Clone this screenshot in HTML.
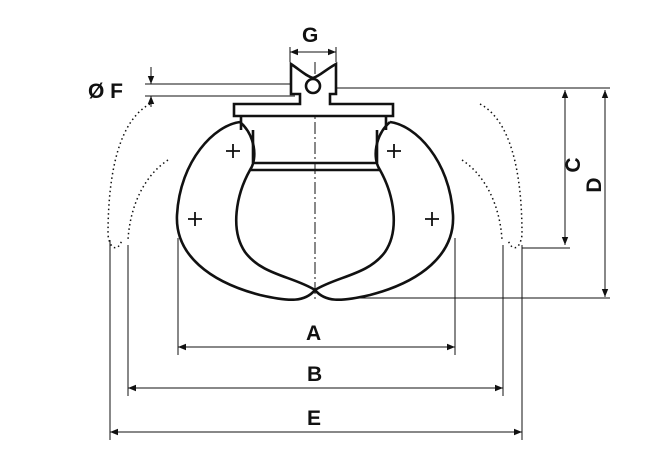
<!DOCTYPE html>
<html><head><style>body{margin:0;background:#fff}svg{display:block}text{font-family:"Liberation Sans",sans-serif;font-weight:bold;font-size:21px;fill:#111}</style></head>
<body>
<svg width="672" height="471" viewBox="0 0 672 471" xmlns="http://www.w3.org/2000/svg">
<defs>
<marker id="ar" viewBox="0 0 10 10" refX="10" refY="5" markerWidth="8" markerHeight="8" orient="auto-start-reverse"><path d="M0,1 L10,5 L0,9 z" fill="#111"/></marker>
</defs>
<g stroke="#111" fill="none">
<g stroke-dasharray="1.5,3" stroke-width="1.5">
<path d="M150,104 C120,120 108,170 108,235 C110,250 118,252 122,240"/>
<path d="M168,160 C145,175 130,205 128,240"/>
<path d="M480,104 C510,120 522,170 522,235 C520,250 512,252 508,240"/>
<path d="M462,160 C485,175 500,205 502,240"/>
</g>
<g stroke-width="1">
<line x1="110" y1="240" x2="110" y2="440"/>
<line x1="128" y1="245" x2="128" y2="396"/>
<line x1="178" y1="238" x2="178" y2="355"/>
<line x1="455" y1="238" x2="455" y2="355"/>
<line x1="503" y1="245" x2="503" y2="396"/>
<line x1="522" y1="245" x2="522" y2="440"/>
<line x1="178" y1="347" x2="455" y2="347" marker-start="url(#ar)" marker-end="url(#ar)"/>
<line x1="128" y1="388" x2="503" y2="388" marker-start="url(#ar)" marker-end="url(#ar)"/>
<line x1="110" y1="432" x2="522" y2="432" marker-start="url(#ar)" marker-end="url(#ar)"/>
<line x1="336" y1="88" x2="610" y2="88"/>
<line x1="357" y1="298" x2="610" y2="298"/>
<line x1="522" y1="248" x2="570" y2="248"/>
<line x1="565" y1="90" x2="565" y2="245" marker-start="url(#ar)" marker-end="url(#ar)"/>
<line x1="605" y1="90" x2="605" y2="297" marker-start="url(#ar)" marker-end="url(#ar)"/>
<line x1="145" y1="84" x2="295" y2="84"/>
<line x1="145" y1="96" x2="295" y2="96"/>
<line x1="151" y1="67" x2="151" y2="84" marker-end="url(#ar)"/>
<line x1="151" y1="107" x2="151" y2="96" marker-end="url(#ar)"/>
<line x1="290" y1="52" x2="336" y2="52" marker-start="url(#ar)" marker-end="url(#ar)"/>
<line x1="290" y1="47" x2="290" y2="62"/><line x1="336" y1="47" x2="336" y2="62"/>
<line x1="315" y1="62" x2="315" y2="300" stroke-dasharray="12,3,2,3"/>
</g>
<g stroke-width="2.6">
<path d="M291,64 L291,94 L300,94 L300,104 L234,104 L234,116 L393,116 L393,104 L330,104 L330,94 L336,94 L336,64 C325,70 320,76 313,78 C306,76 300,70 291,64 Z" fill="#fff"/>
<circle cx="313" cy="86" r="7"/>
<line x1="241" y1="116" x2="241" y2="130"/><line x1="386" y1="116" x2="386" y2="130"/>
<path d="M240,122 C215,125 180,160 177,215 C175,255 210,282 260,295 C290,302 305,302 315,290 C325,302 340,302 370,295 C420,282 455,255 453,215 C450,160 415,125 390,122"/>
<path d="M240,122 C255,135 258,158 250,170 C236,195 230,230 245,252 C262,275 292,276 315,290 C338,276 368,275 385,252 C400,230 394,195 380,170 C372,158 375,135 390,122"/>
<line x1="253" y1="163" x2="377" y2="163"/>
<line x1="250" y1="170" x2="380" y2="170"/>
<line x1="253" y1="130" x2="253" y2="163"/><line x1="377" y1="130" x2="377" y2="163"/>
</g>
<g stroke-width="1.8">
<path d="M226,151h14M233,144v14M188,219h14M195,212v14M387,151h14M394,144v14M425,219h14M432,212v14"/>
</g>
</g>
<text x="302" y="42">G</text>
<text x="88" y="98">Ø F</text>
<text x="306" y="340">A</text>
<text x="307" y="381">B</text>
<text x="307" y="425">E</text>
<text transform="translate(580,165) rotate(-90)" text-anchor="middle">C</text>
<text transform="translate(601,185) rotate(-90)" text-anchor="middle">D</text>
</svg>
</body></html>
